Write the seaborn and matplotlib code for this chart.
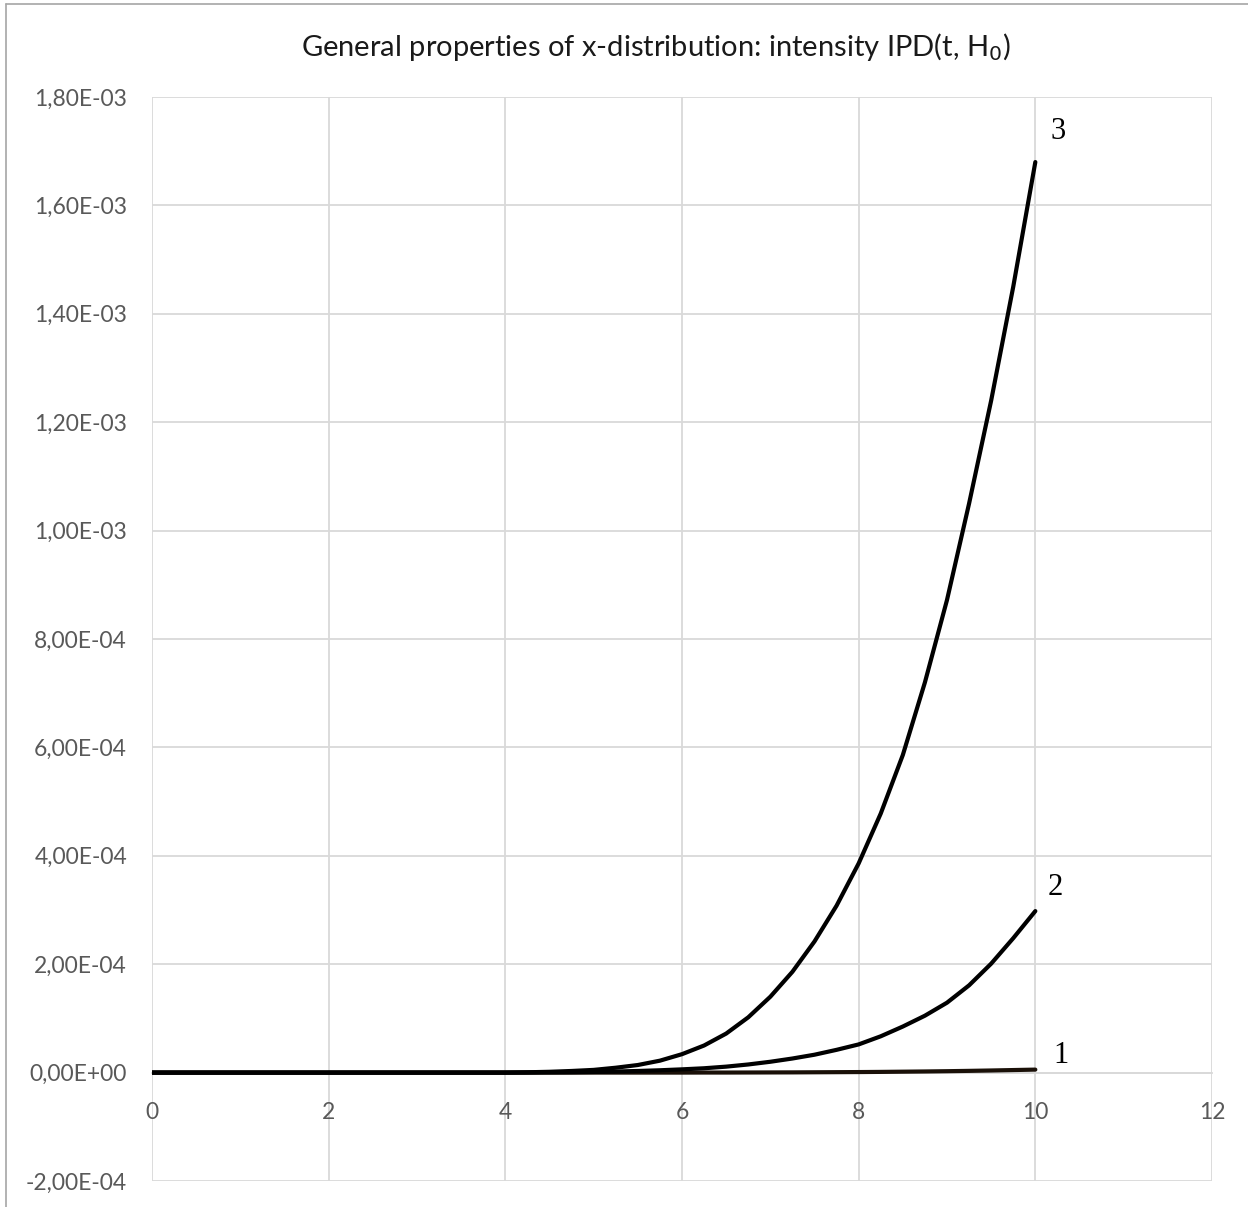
import numpy as np
import pandas as pd
import matplotlib
matplotlib.use('Agg')
import matplotlib.pyplot as plt
import matplotlib.ticker as mticker
from matplotlib.lines import Line2D
import seaborn as sns

# values
t = [0, 1, 2, 3, 4, 4.25, 4.5, 4.75, 5, 5.25, 5.5, 5.75, 6, 6.25, 6.5, 6.75, 7, 7.25, 7.5, 7.75,
     8, 8.25, 8.5, 8.75, 9, 9.25, 9.5, 9.75, 10]
curve1 = [0, 0, 0, 0, 0, 0, 0, 0, 0, 0, 0, 0, 0, 1e-7, 1e-7, 2e-7, 3e-7, 4e-7, 6e-7, 8e-7,
          1.0e-6, 1.3e-6, 1.7e-6, 2.1e-6, 2.6e-6, 3.2e-6, 3.9e-6, 4.7e-6, 5.5e-6]
curve2 = [0, 0, 0, 0, 0, 1e-7, 3e-7, 6e-7, 1.2e-6, 2e-6, 3e-6, 4.3e-6, 6e-6, 8e-6, 1.1e-5, 1.5e-5, 2.0e-5, 2.6e-5, 3.3e-5, 4.2e-5,
          5.2e-5, 6.7e-5, 8.5e-5, 1.05e-4, 1.29e-4, 1.61e-4, 2.01e-4, 2.48e-4, 2.98e-4]
curve3 = [0, 0, 0, 0, 0, 6e-7, 1.5e-6, 3e-6, 5e-6, 9e-6, 1.4e-5, 2.2e-5, 3.4e-5, 5.0e-5, 7.2e-5, 1.02e-4, 1.40e-4, 1.86e-4, 2.42e-4, 3.08e-4,
          3.86e-4, 4.78e-4, 5.86e-4, 7.2e-4, 8.72e-4, 1.05e-3, 1.24e-3, 1.45e-3, 1.68e-3]
names = ['1', '2', '3']

df = pd.DataFrame({'t': t * 3,
                   'value': curve1 + curve2 + curve3,
                   'curve': [n for n in names for _ in t]})

sns.set_style('white')
plt.rcParams['font.family'] = ['Lato', 'DejaVu Sans']

fig = plt.figure(figsize=(12.48, 12.07), dpi=100)
ax = fig.add_axes([152 / 1248, 1 - 1181 / 1207, 1060 / 1248, (1181 - 97) / 1207])

sns.lineplot(data=df, x='t', y='value', hue='curve', palette=['#1a1008', 'black', 'black'],
             linewidth=3.0, legend=False, ax=ax)
for ln in ax.lines:
    ln.set_zorder(4)
    ln.set_solid_joinstyle('round')

ax.set_xlim(0, 12)
ax.set_ylim(-2e-4, 1.8e-3)
ax.xaxis.set_major_locator(mticker.MultipleLocator(2))
ax.yaxis.set_major_locator(mticker.MultipleLocator(2e-4))

def sci_comma(v, pos):
    s = '%.2E' % v
    return s.replace('.', ',')

ax.yaxis.set_major_formatter(mticker.FuncFormatter(sci_comma))
ax.grid(True, color='#d9d9d9', linewidth=1.3)
ax.set_axisbelow(True)
for side in ['top', 'right', 'left']:
    ax.spines[side].set_visible(False)
ax.spines['bottom'].set_position(('data', 0))
ax.spines['bottom'].set_color('#d9d9d9')
ax.spines['bottom'].set_linewidth(1.3)
ax.spines['bottom'].set_zorder(1)
ax.tick_params(length=0, labelsize=16.5, colors='#595959')
ax.tick_params(axis='y', pad=18)
ax.tick_params(axis='x', pad=21)
ax.set_xlabel('')
ax.set_ylabel('')

# curve number labels at the end of each curve
ends = [curve1[-1], curve2[-1], curve3[-1]]
offsets = [(13, 10), (9, 17), (11, 22)]
for name, yv, off in zip(names, ends, offsets):
    ax.annotate(name, xy=(t[-1], yv), xytext=off, textcoords='offset points',
                family='Liberation Serif', fontsize=22, color='black', ha='left', va='center')

fig.text(0.526, 1 - 47 / 1207, 'General properties of x-distribution: intensity IPD(t, H$_0$)',
         ha='center', va='center', fontsize=21, color='#1a1a1a')

# outer chart frame
fig.add_artist(Line2D([6 / 1248, 6 / 1248], [0, 1 - 4 / 1207], transform=fig.transFigure,
                      color='#a6a6a6', linewidth=1.2))
fig.add_artist(Line2D([6 / 1248, 1], [1 - 4 / 1207, 1 - 4 / 1207], transform=fig.transFigure,
                      color='#a6a6a6', linewidth=1.2))

plt.savefig('out.png', dpi=100)
